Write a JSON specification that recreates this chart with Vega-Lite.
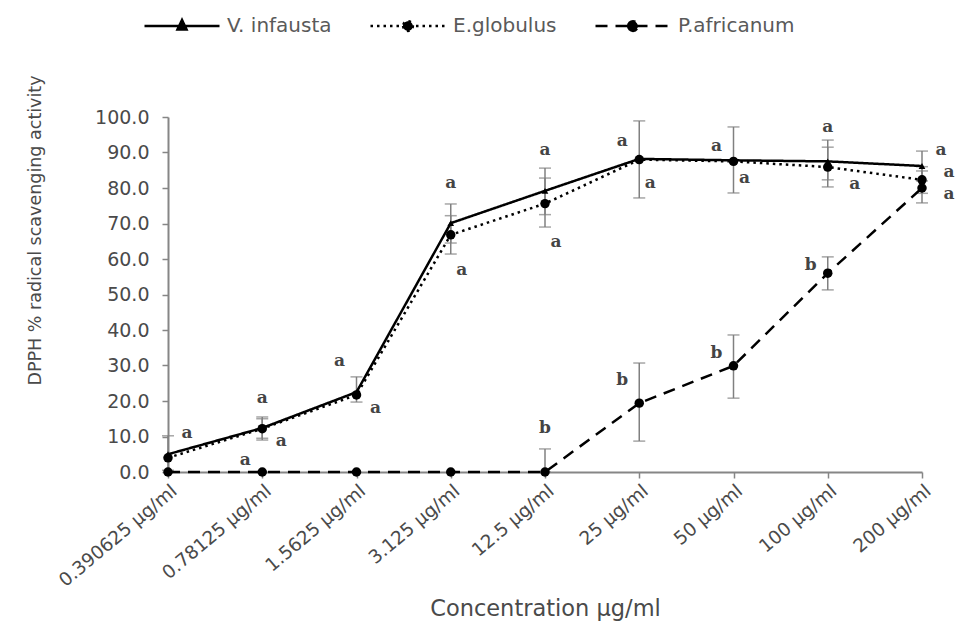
{
  "$schema": "https://vega.github.io/schema/vega-lite/v6.json",
  "width": 754,
  "height": 355,
  "autosize": {"type": "none"},
  "padding": {"left": 168, "top": 117, "right": 46, "bottom": 154},
  "background": "white",
  "config": {
    "view": {"stroke": null},
    "font": "DejaVu Sans",
    "axis": {
      "grid": false,
      "domainColor": "#868686",
      "domainWidth": 2,
      "tickColor": "#868686",
      "tickWidth": 1.5,
      "tickSize": 6,
      "labelColor": "#4a4a4a",
      "titleColor": "#4a4a4a",
      "labelFont": "DejaVu Sans",
      "titleFont": "DejaVu Sans",
      "titleFontWeight": "normal",
      "labelOverlap": false
    },
    "axisY": {
      "labelFontSize": 19,
      "labelPadding": 13,
      "titleFontSize": 17.5,
      "titleX": -133,
      "titleY": 113,
      "titleAngle": -90,
      "titleAlign": "center",
      "titleBaseline": "middle"
    },
    "axisX": {
      "labelFontSize": 18.5,
      "labelAngle": -40,
      "labelPadding": 3,
      "titleFontSize": 22.5,
      "titleY": 136,
      "titleBaseline": "middle"
    }
  },
  "datasets": {
    "pts": [
      {"conc": "0.390625 µg/ml", "series": "V. infausta", "value": 5.0, "lo": 0.5, "hi": 10.2},
      {"conc": "0.78125 µg/ml", "series": "V. infausta", "value": 12.4, "lo": 9.5, "hi": 15.5},
      {"conc": "1.5625 µg/ml", "series": "V. infausta", "value": 22.5, "lo": 19.7, "hi": 26.8},
      {"conc": "3.125 µg/ml", "series": "V. infausta", "value": 70.1, "lo": 64.5, "hi": 75.5},
      {"conc": "12.5 µg/ml", "series": "V. infausta", "value": 79.2, "lo": 72.5, "hi": 85.6},
      {"conc": "25 µg/ml", "series": "V. infausta", "value": 88.2, "lo": 77.2, "hi": 98.9},
      {"conc": "50 µg/ml", "series": "V. infausta", "value": 87.8, "lo": 78.6, "hi": 97.2},
      {"conc": "100 µg/ml", "series": "V. infausta", "value": 87.5, "lo": 82.3, "hi": 93.5},
      {"conc": "200 µg/ml", "series": "V. infausta", "value": 86.2, "lo": 82.0, "hi": 90.4},
      {"conc": "0.390625 µg/ml", "series": "E.globulus", "value": 4.0, "lo": null, "hi": null},
      {"conc": "0.78125 µg/ml", "series": "E.globulus", "value": 12.2, "lo": 9.0, "hi": 15.0},
      {"conc": "1.5625 µg/ml", "series": "E.globulus", "value": 21.7, "lo": null, "hi": null},
      {"conc": "3.125 µg/ml", "series": "E.globulus", "value": 66.8, "lo": 61.4, "hi": 72.2},
      {"conc": "12.5 µg/ml", "series": "E.globulus", "value": 75.6, "lo": 69.0, "hi": 82.8},
      {"conc": "25 µg/ml", "series": "E.globulus", "value": 88.0, "lo": null, "hi": null},
      {"conc": "50 µg/ml", "series": "E.globulus", "value": 87.5, "lo": null, "hi": null},
      {"conc": "100 µg/ml", "series": "E.globulus", "value": 85.9, "lo": 80.3, "hi": 91.5},
      {"conc": "200 µg/ml", "series": "E.globulus", "value": 82.3, "lo": 78.5, "hi": 86.0},
      {"conc": "0.390625 µg/ml", "series": "P.africanum", "value": 0, "lo": null, "hi": null},
      {"conc": "0.78125 µg/ml", "series": "P.africanum", "value": 0, "lo": null, "hi": null},
      {"conc": "1.5625 µg/ml", "series": "P.africanum", "value": 0, "lo": null, "hi": null},
      {"conc": "3.125 µg/ml", "series": "P.africanum", "value": 0, "lo": null, "hi": null},
      {"conc": "12.5 µg/ml", "series": "P.africanum", "value": 0, "lo": 0, "hi": 6.5},
      {"conc": "25 µg/ml", "series": "P.africanum", "value": 19.4, "lo": 8.7, "hi": 30.7},
      {"conc": "50 µg/ml", "series": "P.africanum", "value": 29.9, "lo": 20.8, "hi": 38.6},
      {"conc": "100 µg/ml", "series": "P.africanum", "value": 56.0, "lo": 51.3, "hi": 60.6},
      {"conc": "200 µg/ml", "series": "P.africanum", "value": 80.0, "lo": 75.8, "hi": 84.8}
    ],
    "letters": [
      {"conc": "0.390625 µg/ml", "letter": "a", "ly": 11.0, "side": "r"},
      {"conc": "0.78125 µg/ml", "letter": "a", "ly": 3.4, "side": "l"},
      {"conc": "0.78125 µg/ml", "letter": "a", "ly": 20.8, "side": "c"},
      {"conc": "0.78125 µg/ml", "letter": "a", "ly": 8.7, "side": "r"},
      {"conc": "1.5625 µg/ml", "letter": "a", "ly": 31.3, "side": "l"},
      {"conc": "1.5625 µg/ml", "letter": "a", "ly": 18.0, "side": "r"},
      {"conc": "3.125 µg/ml", "letter": "a", "ly": 81.4, "side": "c"},
      {"conc": "3.125 µg/ml", "letter": "a", "ly": 56.9, "side": "rs"},
      {"conc": "12.5 µg/ml", "letter": "a", "ly": 90.7, "side": "c"},
      {"conc": "12.5 µg/ml", "letter": "a", "ly": 64.8, "side": "rs"},
      {"conc": "12.5 µg/ml", "letter": "b", "ly": 12.4, "side": "c"},
      {"conc": "25 µg/ml", "letter": "a", "ly": 93.2, "side": "l"},
      {"conc": "25 µg/ml", "letter": "a", "ly": 81.4, "side": "rs"},
      {"conc": "25 µg/ml", "letter": "b", "ly": 25.9, "side": "l"},
      {"conc": "50 µg/ml", "letter": "a", "ly": 91.8, "side": "l"},
      {"conc": "50 µg/ml", "letter": "a", "ly": 82.8, "side": "rs"},
      {"conc": "50 µg/ml", "letter": "b", "ly": 33.5, "side": "l"},
      {"conc": "100 µg/ml", "letter": "a", "ly": 97.2, "side": "c"},
      {"conc": "100 µg/ml", "letter": "a", "ly": 81.1, "side": "rr"},
      {"conc": "100 µg/ml", "letter": "b", "ly": 58.3, "side": "l"},
      {"conc": "200 µg/ml", "letter": "a", "ly": 90.7, "side": "r"},
      {"conc": "200 µg/ml", "letter": "a", "ly": 84.5, "side": "rr"},
      {"conc": "200 µg/ml", "letter": "a", "ly": 78.3, "side": "rr"}
    ]
  },
  "encoding": {
    "x": {
      "field": "conc",
      "type": "nominal",
      "sort": ["0.390625 µg/ml", "0.78125 µg/ml", "1.5625 µg/ml", "3.125 µg/ml", "12.5 µg/ml", "25 µg/ml", "50 µg/ml", "100 µg/ml", "200 µg/ml"],
      "scale": {"type": "point", "padding": 0},
      "title": "Concentration µg/ml"
    }
  },
  "layer": [
    {
      "data": {"name": "pts"},
      "transform": [{"filter": "datum.lo != null"}],
      "mark": {"type": "rule", "color": "#808080", "strokeWidth": 1.5},
      "encoding": {
        "y": {"field": "lo", "type": "quantitative", "scale": {"domain": [0, 100]}, "title": "DPPH % radical scavenging activity", "axis": {"values": [0, 10, 20, 30, 40, 50, 60, 70, 80, 90, 100], "format": ".1f"}},
        "y2": {"field": "hi"}
      }
    },
    {
      "data": {"name": "pts"},
      "transform": [{"filter": "datum.lo != null"}],
      "mark": {"type": "tick", "color": "#808080", "size": 12, "thickness": 1.5},
      "encoding": {
        "y": {"field": "lo", "type": "quantitative", "title": "DPPH % radical scavenging activity", "axis": {"values": [0, 10, 20, 30, 40, 50, 60, 70, 80, 90, 100], "format": ".1f"}}
      }
    },
    {
      "data": {"name": "pts"},
      "transform": [{"filter": "datum.lo != null"}],
      "mark": {"type": "tick", "color": "#808080", "size": 12, "thickness": 1.5},
      "encoding": {
        "y": {"field": "hi", "type": "quantitative", "title": "DPPH % radical scavenging activity", "axis": {"values": [0, 10, 20, 30, 40, 50, 60, 70, 80, 90, 100], "format": ".1f"}}
      }
    },
    {
      "data": {"name": "pts"},
      "mark": {"type": "line", "color": "black", "strokeWidth": 2.5, "strokeCap": "butt"},
      "encoding": {
        "y": {"field": "value", "type": "quantitative", "title": "DPPH % radical scavenging activity", "axis": {"values": [0, 10, 20, 30, 40, 50, 60, 70, 80, 90, 100], "format": ".1f"}},
        "strokeDash": {
          "field": "series",
          "type": "nominal",
          "scale": {"domain": ["V. infausta", "E.globulus", "P.africanum"], "range": [[1, 0], [2.5, 4], [12, 8]]},
          "legend": {
            "orient": "none",
            "legendX": -25,
            "legendY": -130,
            "direction": "horizontal",
            "title": null,
            "symbolSize": 5625,
            "symbolStrokeWidth": 2.5,
            "symbolStrokeColor": "black",
            "labelFont": "DejaVu Sans",
            "labelFontSize": 20,
            "labelColor": "#5a5a5a",
            "labelOffset": 6,
            "columnPadding": 33,
            "encode": {
              "symbols": {
                "update": {
                  "shape": {"signal": "datum.value === 'V. infausta' ? 'M-1,0H1M0,-0.16L0.12,0.09L-0.12,0.09Z' : 'M-1,0H1M-0.13,0A0.13,0.13 0 1,0 0.13,0A0.13,0.13 0 1,0 -0.13,0'"},
                  "fill": {"value": "black"},
                  "stroke": {"value": "black"}
                }
              }
            }
          }
        },
        "detail": {"field": "series"}
      }
    },
    {
      "data": {"name": "pts"},
      "mark": {"type": "point", "filled": true, "color": "black", "opacity": 1},
      "encoding": {
        "y": {"field": "value", "type": "quantitative", "title": "DPPH % radical scavenging activity", "axis": {"values": [0, 10, 20, 30, 40, 50, 60, 70, 80, 90, 100], "format": ".1f"}},
        "shape": {"condition": {"test": "datum.series === 'V. infausta'", "value": "triangle-up"}, "value": "circle"},
        "size": {"condition": {"test": "datum.series === 'V. infausta'", "value": 45}, "value": 90}
      }
    },
    {
      "data": {"name": "letters"},
      "transform": [{"filter": "datum.side === 'c'"}],
      "mark": {"type": "text", "font": "DejaVu Serif", "fontWeight": "bold", "fontSize": 17, "color": "#444444", "baseline": "middle", "align": "center"},
      "encoding": {"y": {"field": "ly", "type": "quantitative", "title": "DPPH % radical scavenging activity", "axis": {"values": [0, 10, 20, 30, 40, 50, 60, 70, 80, 90, 100], "format": ".1f"}}, "text": {"field": "letter"}}
    },
    {
      "data": {"name": "letters"},
      "transform": [{"filter": "datum.side === 'l'"}],
      "mark": {"type": "text", "font": "DejaVu Serif", "fontWeight": "bold", "fontSize": 17, "color": "#444444", "baseline": "middle", "align": "center", "dx": -17},
      "encoding": {"y": {"field": "ly", "type": "quantitative", "title": "DPPH % radical scavenging activity", "axis": {"values": [0, 10, 20, 30, 40, 50, 60, 70, 80, 90, 100], "format": ".1f"}}, "text": {"field": "letter"}}
    },
    {
      "data": {"name": "letters"},
      "transform": [{"filter": "datum.side === 'rs'"}],
      "mark": {"type": "text", "font": "DejaVu Serif", "fontWeight": "bold", "fontSize": 17, "color": "#444444", "baseline": "middle", "align": "center", "dx": 11},
      "encoding": {"y": {"field": "ly", "type": "quantitative", "title": "DPPH % radical scavenging activity", "axis": {"values": [0, 10, 20, 30, 40, 50, 60, 70, 80, 90, 100], "format": ".1f"}}, "text": {"field": "letter"}}
    },
    {
      "data": {"name": "letters"},
      "transform": [{"filter": "datum.side === 'r'"}],
      "mark": {"type": "text", "font": "DejaVu Serif", "fontWeight": "bold", "fontSize": 17, "color": "#444444", "baseline": "middle", "align": "center", "dx": 19},
      "encoding": {"y": {"field": "ly", "type": "quantitative", "title": "DPPH % radical scavenging activity", "axis": {"values": [0, 10, 20, 30, 40, 50, 60, 70, 80, 90, 100], "format": ".1f"}}, "text": {"field": "letter"}}
    },
    {
      "data": {"name": "letters"},
      "transform": [{"filter": "datum.side === 'rr'"}],
      "mark": {"type": "text", "font": "DejaVu Serif", "fontWeight": "bold", "fontSize": 17, "color": "#444444", "baseline": "middle", "align": "center", "dx": 27},
      "encoding": {"y": {"field": "ly", "type": "quantitative", "title": "DPPH % radical scavenging activity", "axis": {"values": [0, 10, 20, 30, 40, 50, 60, 70, 80, 90, 100], "format": ".1f"}}, "text": {"field": "letter"}}
    }
  ]
}
